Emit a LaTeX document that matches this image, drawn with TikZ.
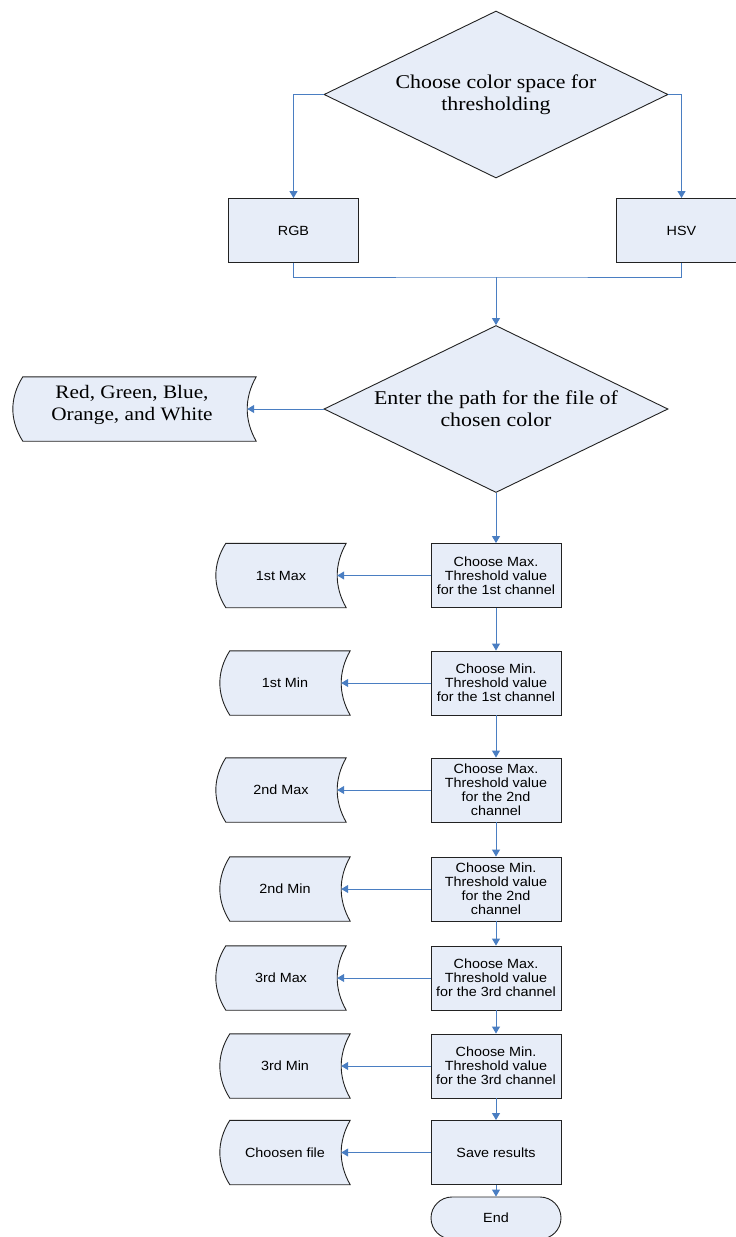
\documentclass[tikz,border=0pt]{standalone}
\usepackage{fontspec}
\setmainfont{Liberation Serif}
\newfontfamily\serifF[FakeStretch=1.12]{Liberation Serif}
\newfontfamily\sansF[FakeStretch=1.08]{Liberation Sans}
\usetikzlibrary{shapes.geometric,arrows.meta,calc,backgrounds}
\definecolor{boxfill}{HTML}{E7EDF8}
\definecolor{linkblue}{HTML}{4A7EC2}
\definecolor{edge}{HTML}{222222}
\tikzset{
 proc/.style={draw=edge, fill=boxfill, line width=0.9pt, minimum width=130pt, minimum height=64pt, inner sep=0pt, align=center, font=\sansF\fontsize{13.3}{14}\selectfont},
 dec/.style={diamond, aspect=2.06, draw=edge, fill=boxfill, line width=0.9pt, minimum width=344pt, minimum height=167pt, inner sep=0pt, align=center, font=\serifF\fontsize{19.5}{22}\selectfont},
 sdnode/.style={minimum width=130pt, minimum height=64pt, inner sep=0pt, align=center, font=\sansF\fontsize{13.3}{14}\selectfont},
 sdfill/.style={draw=edge, fill=boxfill, line width=0.9pt},
 term/.style={draw=edge, fill=boxfill, line width=0.9pt, rounded corners=21pt, minimum width=130pt, minimum height=42pt, inner sep=0pt, font=\sansF\fontsize{13.3}{14}\selectfont},
 conn/.style={draw=linkblue, line width=1pt, -{Triangle[width=8pt,length=7pt]}},
 link/.style={draw=linkblue, line width=1pt}
}
\newcommand\sdshape[1]{\path[sdfill] ($(#1.north west)+(10,0)$) -- (#1.north east) .. controls ($(#1.north east)+(-12,21)$) and ($(#1.south east)+(-12,-21)$) .. (#1.south east) -- ($(#1.south west)+(10,0)$) .. controls ($(#1.south west)+(-3.3,-21)$) and ($(#1.north west)+(-3.3,21)$) .. cycle;}
\begin{document}
\begin{tikzpicture}[x=1pt,y=-1pt]
\useasboundingbox (0,0) rectangle (736,1237);
\clip (0,0) rectangle (736,1237);
% top decision
\node[dec] (d1) at (496,94.5) {Choose color space for\\thresholding};
\node[proc] (rgb) at (293.5,230.5) {RGB};
\node[proc] (hsv) at (681.5,230.5) {HSV};
\node[dec] (d2) at (496,409) {Enter the path for the file of\\chosen color};
\node[sdnode, minimum width=243pt] (colors) at (134.5,409) {};
\node[font=\serifF\fontsize{19}{22}\selectfont, align=center, inner sep=0pt] (colorstxt) at (132,404.5) {Red, Green, Blue,\\Orange, and White};
% process column
\node[proc] (b1) at (496,575.5) {Choose Max.\\Threshold value\\for the 1st channel};
\node[proc] (b2) at (496,683) {Choose Min.\\Threshold value\\for the 1st channel};
\node[proc] (b3) at (496,790) {Choose Max.\\Threshold value\\for the 2nd\\channel};
\node[proc] (b4) at (496,889) {Choose Min.\\Threshold value\\for the 2nd\\channel};
\node[proc] (b5) at (496,978) {Choose Max.\\Threshold value\\for the 3rd channel};
\node[proc] (b6) at (496,1066) {Choose Min.\\Threshold value\\for the 3rd channel};
\node[proc] (save) at (496,1152.5) {Save results};
\node[term] (end) at (496,1218) {End};
% stored data
\node[sdnode] (s1) at (281,575.5) {1st Max};
\node[sdnode] (s2) at (285,683) {1st Min};
\node[sdnode] (s3) at (281,790) {2nd Max};
\node[sdnode] (s4) at (285,889) {2nd Min};
\node[sdnode] (s5) at (281,978) {3rd Max};
\node[sdnode] (s6) at (285,1066) {3rd Min};
\node[sdnode] (s7) at (285,1152.5) {Choosen file};
\begin{pgfonlayer}{background}
\sdshape{colors}
\sdshape{s1}\sdshape{s2}\sdshape{s3}\sdshape{s4}\sdshape{s5}\sdshape{s6}\sdshape{s7}
\end{pgfonlayer}
% connectors
\draw[conn] (d1.west) -| (rgb.north);
\draw[conn] (d1.east) -| (hsv.north);
\coordinate (m) at (496,277);
\draw[link] (rgb.south) |- (m) -| (hsv.south);
\draw[conn] (m) -- (d2.north);
\draw[conn] (d2.west) -- ($(colors.east)+(-9,0)$);
\draw[conn] (d2.south) -- (b1.north);
\draw[conn] (b1.south) -- (b2.north);
\draw[conn] (b2.south) -- (b3.north);
\draw[conn] (b3.south) -- (b4.north);
\draw[conn] (b4.south) -- (b5.north);
\draw[conn] (b5.south) -- (b6.north);
\draw[conn] (b6.south) -- (save.north);
\draw[conn] (save.south) -- (end.north);
\draw[conn] (b1.west) -- ($(s1.east)+(-9,0)$);
\draw[conn] (b2.west) -- ($(s2.east)+(-9,0)$);
\draw[conn] (b3.west) -- ($(s3.east)+(-9,0)$);
\draw[conn] (b4.west) -- ($(s4.east)+(-9,0)$);
\draw[conn] (b5.west) -- ($(s5.east)+(-9,0)$);
\draw[conn] (b6.west) -- ($(s6.east)+(-9,0)$);
\draw[conn] (save.west) -- ($(s7.east)+(-9,0)$);
\end{tikzpicture}
\end{document}
